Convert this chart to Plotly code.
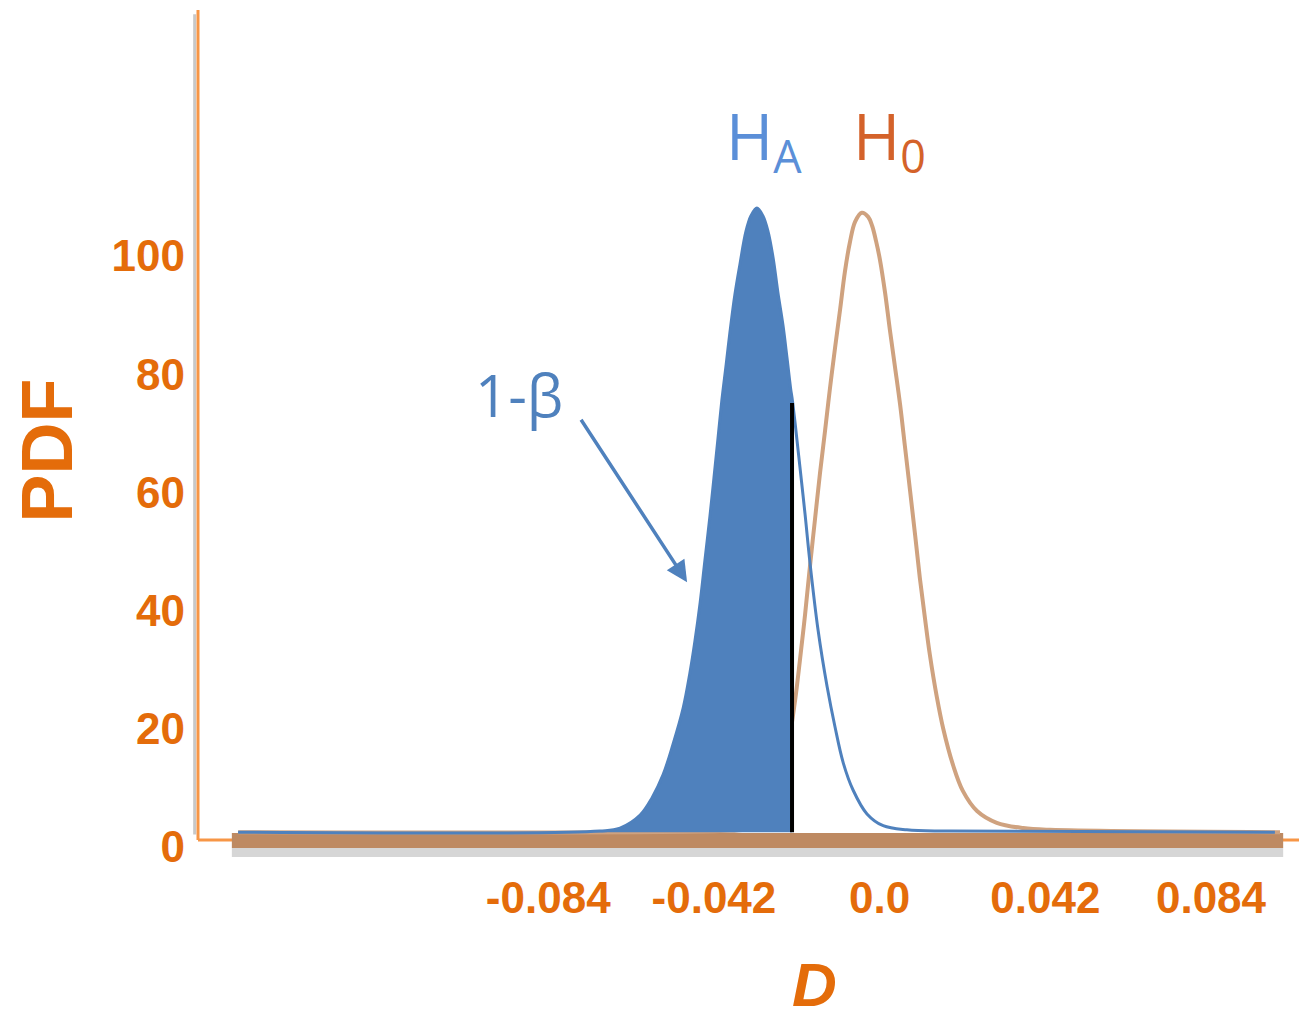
import plotly.graph_objects as go

# ---- data ----
ha_x = [-0.1626, -0.0709, -0.0658, -0.0607, -0.0577, -0.0549, -0.0524, -0.0498, -0.0481, -0.0468,
        -0.0455, -0.0443, -0.0430, -0.0420, -0.0410, -0.0400, -0.0389, -0.0379, -0.0367, -0.0354,
        -0.0339, -0.0326, -0.0311, -0.0296, -0.0283, -0.0270, -0.0258, -0.0245, -0.0235, -0.0225,
        -0.0222, -0.0214, -0.0202, -0.0189, -0.0177, -0.0156, -0.0133, -0.0113, -0.0092, -0.0067,
        -0.0032, 0.0009, 0.0069, 0.0178, 0.1002]
ha_y = [2.5, 2.7, 3.2, 5.4, 8.3, 12.2, 17.3, 23.5, 29.4, 34.9,
        41.3, 48.4, 56.0, 62.4, 68.9, 75.5, 81.6, 87.3, 93.4, 98.6,
        104.1, 106.8, 108.1, 106.8, 104.2, 99.7, 93.9, 88.3, 82.9, 77.3,
        76.0, 71.6, 64.3, 56.3, 48.4, 36.7, 27.1, 20.3, 14.2, 9.6,
        5.6, 3.6, 2.9, 2.7, 2.5]

h0_x = [-0.1626, -0.0405, -0.0341, -0.0303, -0.0278, -0.0258, -0.0240, -0.0227, -0.0214, -0.0202,
        -0.0189, -0.0177, -0.0164, -0.0151, -0.0138, -0.0126, -0.0113, -0.0100, -0.0088, -0.0075,
        -0.0062, -0.0045, -0.0029, -0.0019, -0.0009, 0.0001, 0.0014, 0.0026, 0.0039, 0.0052,
        0.0064, 0.0077, 0.0090, 0.0102, 0.0115, 0.0127, 0.0145, 0.0161, 0.0186, 0.0211,
        0.0247, 0.0297, 0.0364, 0.0432, 0.1015]
h0_y = [2.5, 2.7, 3.0, 4.2, 6.3, 9.3, 14.2, 19.0, 24.9, 31.6,
        39.3, 47.2, 55.3, 63.3, 70.6, 77.5, 84.4, 91.0, 97.3, 102.4,
        105.8, 107.3, 106.6, 105.1, 102.5, 99.3, 93.7, 87.5, 81.2, 74.8,
        67.9, 60.4, 52.8, 45.5, 38.7, 32.7, 25.4, 20.1, 13.9, 9.5,
        6.1, 4.1, 3.2, 2.9, 2.5]

crit_x = -0.0222      # critical value (black line)
crit_top = 75.1
base_level = 2.5

x_tickvals = [-0.084, -0.042, 0.0, 0.042, 0.084]
x_ticktext = ["-0.084", "-0.042", "0.0", "0.042", "0.084"]
y_tickvals = [0, 20, 40, 60, 80, 100]
y_ticktext = ["0", "20", "40", "60", "80", "100"]

# ---- styles ----
BLUE = "#4F81BD"
TAN = "#CFA27F"
ORANGE_TXT = "#E46C0A"
ORANGE_LINE = "#F79646"

fill_x = [v for v in ha_x if v <= crit_x]
fill_y = ha_y[:len(fill_x)]

fig = go.Figure()
fig.add_trace(go.Scatter(x=h0_x, y=h0_y, mode="lines",
                         line=dict(color=TAN, width=4, shape="spline", smoothing=1.0), hoverinfo="skip"))
fig.add_trace(go.Scatter(x=[fill_x[0], crit_x], y=[base_level, base_level], mode="lines",
                         line=dict(width=0, color=BLUE), hoverinfo="skip"))
fig.add_trace(go.Scatter(x=fill_x, y=fill_y, mode="lines", fill="tonexty", fillcolor=BLUE,
                         line=dict(color=BLUE, width=1, shape="spline", smoothing=1.0), hoverinfo="skip"))
fig.add_trace(go.Scatter(x=ha_x, y=ha_y, mode="lines",
                         line=dict(color=BLUE, width=3, shape="spline", smoothing=1.0), hoverinfo="skip"))
fig.add_trace(go.Scatter(x=[crit_x, crit_x], y=[base_level, crit_top], mode="lines",
                         line=dict(color="black", width=4), hoverinfo="skip"))

shapes = [
    # y axis shadow + line
    dict(type="line", xref="paper", yref="paper", x0=-0.003, x1=-0.003, y0=0.03, y1=0.995,
         line=dict(color="#C8C8C8", width=3), layer="below"),
    dict(type="line", xref="paper", yref="y", x0=0.0, x1=0.0, y0=1.18, y1=141.6,
         line=dict(color=ORANGE_LINE, width=3), layer="below"),
    # x axis line
    dict(type="line", xref="paper", yref="y", x0=0.0, x1=1.0, y0=1.18, y1=1.18,
         line=dict(color=ORANGE_LINE, width=3), layer="below"),
    # brown baseline band with shadow
    dict(type="rect", xref="x", yref="y", x0=-0.1642, x1=0.1023, y0=-1.7, y1=-0.17,
         line=dict(width=0), fillcolor="#D6D6D6", layer="below"),
    dict(type="rect", xref="x", yref="y", x0=-0.1642, x1=0.1023, y0=-0.17, y1=2.37,
         line=dict(width=0), fillcolor="#BE8A62", layer="below"),
]

annotations = [
    dict(text="H<sub>A</sub>", x=-0.0293, y=111.5, xref="x", yref="y", showarrow=False,
         font=dict(family="Open Sans", size=64, color="#5B8FD8"), xanchor="center", yanchor="bottom"),
    dict(text="H<sub>0</sub>", x=0.0024, y=111.5, xref="x", yref="y", showarrow=False,
         font=dict(family="Open Sans", size=64, color="#D4622A"), xanchor="center", yanchor="bottom"),
    dict(text="1-β", x=-0.0915, y=76.5, xref="x", yref="y", showarrow=False,
         font=dict(family="Open Sans", size=58, color=BLUE), xanchor="center", yanchor="middle"),
    dict(text="", x=-0.0488, y=44.8, xref="x", yref="y", ax=-107, ay=-164,
         showarrow=True, arrowhead=2, arrowsize=1.2, arrowwidth=3.5, arrowcolor=BLUE),
    dict(text="PDF", xref="paper", yref="paper", x=-0.136, y=0.482, textangle=-90,
         showarrow=False, xanchor="center", yanchor="middle", height=62,
         font=dict(family="Liberation Sans", size=72, color=ORANGE_TXT, weight="bold")),
    dict(text="<i>D</i>", xref="paper", yref="paper", x=0.556, y=-0.146,
         showarrow=False, xanchor="center", yanchor="middle", height=56,
         font=dict(family="Liberation Sans", size=62, color=ORANGE_TXT, weight="bold")),
]

fig.update_layout(
    width=1299, height=1012,
    margin=dict(l=190, r=0, t=2, b=160),
    paper_bgcolor="white", plot_bgcolor="white",
    showlegend=False,
    shapes=shapes, annotations=annotations,
    xaxis=dict(range=[-0.17278, 0.10834], showgrid=False, zeroline=False, showline=False,
               automargin=False,
               tickvals=x_tickvals, ticktext=x_ticktext, ticks="", ticklabelstandoff=8,
               tickfont=dict(family="Liberation Sans", size=44, color=ORANGE_TXT, weight="bold")),
    yaxis=dict(range=[-2.2, 141.6], showgrid=False, zeroline=False, showline=False,
               automargin=False,
               tickvals=y_tickvals, ticktext=y_ticktext, ticks="", ticklabelstandoff=12,
               tickfont=dict(family="Liberation Sans", size=44, color=ORANGE_TXT, weight="bold")),
)

fig.write_html("out.html")
